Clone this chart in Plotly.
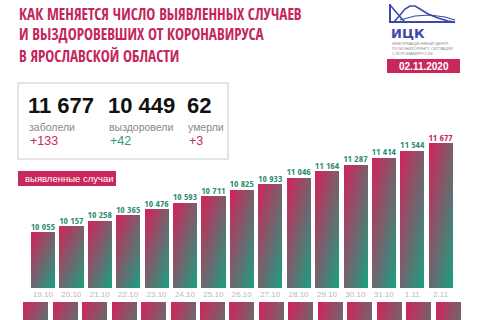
import plotly.graph_objects as go

# ---------------- data ----------------
dates = ["19.10", "20.10", "21.10", "22.10", "23.10", "24.10", "25.10", "26.10",
         "27.10", "28.10", "29.10", "30.10", "31.10", "1.11", "2.11"]
cases = [10055, 10157, 10258, 10365, 10476, 10593, 10711, 10825,
         10933, 11046, 11164, 11287, 11414, 11544, 11677]

title_lines = ["КАК МЕНЯЕТСЯ ЧИСЛО ВЫЯВЛЕННЫХ СЛУЧАЕВ",
               "И ВЫЗДОРОВЕВШИХ ОТ КОРОНАВИРУСА",
               "В ЯРОСЛАВСКОЙ ОБЛАСТИ"]
stat_values = ["11 677", "10 449", "62"]
stat_labels = ["заболели", "выздоровели", "умерли"]
stat_deltas = ["+133", "+42", "+3"]
report_date = "02.11.2020"
series_label = "выявленные случаи"

# ---------------- styles ----------------
W, H = 480, 320
PINK = (204, 40, 90)
TEAL = (32, 155, 128)
CRIMSON = "#c9285a"
LABEL_TEAL = "#2e8c78"
NAVY = "#3b4aa5"
COND = "Open Sans Condensed, Roboto Condensed, sans-serif"
SANS = "Liberation Sans, Arial, sans-serif"

Y0, YMAX = 9030, 11920
BAR_W = 0.85
NR, NC = 16, 8


def px(x, y):
    return x / W, 1 - y / H


def mix(t):
    t = max(0.0, min(1.0, t))
    r, g, b = (round(PINK[i] + (TEAL[i] - PINK[i]) * t) for i in range(3))
    return f"rgb({r},{g},{b})"


fig = go.Figure()

# main gradient bars (mosaic of stacked slices)
for r in range(NR):          # r = 0 -> top slice
    for c in range(NC):      # c = 0 -> left slice
        t = 0.55 * (r / (NR - 1)) + 0.45 * (c / (NC - 1))
        h = [(v - Y0) / NR for v in cases]
        base = [Y0 + hi * (NR - 1 - r) for hi in h]
        fig.add_trace(go.Bar(
            x=dates, y=h, base=base, width=BAR_W / NC,
            offset=-BAR_W / 2 + c * BAR_W / NC,
            marker=dict(color=mix(t), line=dict(width=0)),
            hoverinfo="skip", showlegend=False, xaxis="x", yaxis="y"))

# cropped bars of the next chart at the bottom
for r in range(NR):
    for c in range(NC):
        t = 0.55 * (r / (NR - 1)) + 0.45 * (c / (NC - 1))
        h = [(v - Y0) / NR for v in cases]
        base = [Y0 + hi * r for hi in h]
        fig.add_trace(go.Bar(
            x=dates, y=h, base=base, width=BAR_W / NC,
            offset=-BAR_W / 2 + c * BAR_W / NC,
            marker=dict(color=mix(t), line=dict(width=0)),
            hoverinfo="skip", showlegend=False, xaxis="x2", yaxis="y2"))

# value labels
fig.add_trace(go.Scatter(
    x=dates, y=cases, mode="text",
    text=[f"{v:,}".replace(",", " ") for v in cases],
    textposition="top center",
    textfont=dict(family=COND, size=9.5, weight="bold",
                  color=[LABEL_TEAL] * (len(cases) - 1) + [CRIMSON]),
    cliponaxis=False, hoverinfo="skip", showlegend=False))

x_dom = [20.8 / W, 462.7 / W]
fig.update_layout(
    width=W, height=H, margin=dict(l=0, r=0, t=0, b=0),
    paper_bgcolor="white", plot_bgcolor="white",
    barmode="overlay", bargap=0,
    xaxis=dict(domain=x_dom, type="category", categoryarray=dates,
               showgrid=False, zeroline=False, showline=False, ticks="",
               tickfont=dict(family=SANS, size=8, color="#b8b8b8"), anchor="y"),
    yaxis=dict(domain=[1 - 288 / H, 1 - 130 / H], range=[Y0, YMAX], visible=False),
    xaxis2=dict(domain=x_dom, type="category", categoryarray=dates,
                showgrid=False, zeroline=False, showline=False, ticks="",
                showticklabels=False, anchor="y2"),
    yaxis2=dict(domain=[0, 1 - 302 / H], range=[Y0 + 330, Y0], visible=False),
)

shapes = []
ann = []

# title
for line, yc in zip(title_lines, [13.5, 34.5, 55.5]):
    x, y = px(17, yc)
    ann.append(dict(x=x, y=y, xref="paper", yref="paper", xanchor="left", yanchor="middle",
                    text=line, showarrow=False,
                    font=dict(family=COND, size=15.2, weight="bold", color="#c4265b")))


# logo
def path(points):
    s = ""
    for k, (x, y) in enumerate(points):
        X, Y = px(x, y)
        s += ("M" if k == 0 else "L") + f"{X:.5f},{Y:.5f} "
    return s


shapes.append(dict(type="path", xref="paper", yref="paper",
                   path=path([(390, 4), (390, 22), (455, 22)]),
                   line=dict(color=NAVY, width=2)))
shapes.append(dict(type="path", xref="paper", yref="paper",
                   path=path([(390, 5), (396, 12), (402, 19), (405, 22)]),
                   line=dict(color=NAVY, width=1.6)))
bell = [(394, 22), (400, 15), (405, 9), (410, 6), (415, 6), (420, 9), (428, 14),
        (438, 18), (448, 21), (455, 22)]
shapes.append(dict(type="path", xref="paper", yref="paper", path=path(bell),
                   line=dict(color=NAVY, width=1.6)))
flat = [(400, 20), (415, 16), (430, 15), (445, 17), (455, 20)]
shapes.append(dict(type="path", xref="paper", yref="paper", path=path(flat),
                   line=dict(color=NAVY, width=1.2)))

x, y = px(389, 33.5)
ann.append(dict(x=x, y=y, xref="paper", yref="paper", xanchor="left", yanchor="middle",
                text="ИЦК", showarrow=False,
                font=dict(family="DejaVu Sans", size=13, weight="bold", color=NAVY)))
for txt, yc in zip(["ИНФОРМАЦИОННЫЙ ЦЕНТР", "ПО МОНИТОРИНГУ СИТУАЦИИ", "С КОРОНАВИРУСОМ"],
                   [44, 48.5, 53]):
    x, y = px(390, yc)
    ann.append(dict(x=x, y=y, xref="paper", yref="paper", xanchor="left", yanchor="middle",
                    text=txt, showarrow=False,
                    font=dict(family=SANS, size=4, color="#8a8a8a")))

x0, y0 = px(387, 73)
x1, y1 = px(460, 59)
shapes.append(dict(type="rect", xref="paper", yref="paper", x0=x0, y0=y0, x1=x1, y1=y1,
                   fillcolor=CRIMSON, line=dict(width=0)))
x, y = px(423.5, 66)
ann.append(dict(x=x, y=y, xref="paper", yref="paper", xanchor="center", yanchor="middle",
                text=report_date, showarrow=False,
                font=dict(family=SANS, size=10, weight="bold", color="white")))

# stats box
x0, y0 = px(18, 159)
x1, y1 = px(228, 83)
shapes.append(dict(type="rect", xref="paper", yref="paper", x0=x0, y0=y0, x1=x1, y1=y1,
                   fillcolor="rgba(0,0,0,0)", line=dict(color="#dcdcdc", width=1.5)))
delta_colors = [CRIMSON, "#2e9c7c", CRIMSON]
for xs, val, lab, dlt, dc in zip([26, 106, 185], stat_values, stat_labels, stat_deltas,
                                  delta_colors):
    x, y = px(xs, 105.5)
    ann.append(dict(x=x, y=y, xref="paper", yref="paper", xanchor="left", yanchor="middle",
                    text=val, showarrow=False,
                    font=dict(family=SANS, size=22, weight="bold", color="#111111")))
    x, y = px(xs + 1, 127)
    ann.append(dict(x=x, y=y, xref="paper", yref="paper", xanchor="left", yanchor="middle",
                    text=lab, showarrow=False,
                    font=dict(family=SANS, size=10.5, color="#8a8a8a")))
    x, y = px(xs + 2, 141)
    ann.append(dict(x=x, y=y, xref="paper", yref="paper", xanchor="left", yanchor="middle",
                    text=dlt, showarrow=False,
                    font=dict(family=SANS, size=12.5, color=dc)))

# series label box
x0, y0 = px(18, 186)
x1, y1 = px(116, 171)
shapes.append(dict(type="rect", xref="paper", yref="paper", x0=x0, y0=y0, x1=x1, y1=y1,
                   fillcolor=CRIMSON, line=dict(width=0)))
x, y = px(23, 178.5)
ann.append(dict(x=x, y=y, xref="paper", yref="paper", xanchor="left", yanchor="middle",
                text=series_label, showarrow=False,
                font=dict(family=SANS, size=9.5, color="white")))

fig.update_layout(shapes=shapes, annotations=ann)
fig.write_html("out.html")
